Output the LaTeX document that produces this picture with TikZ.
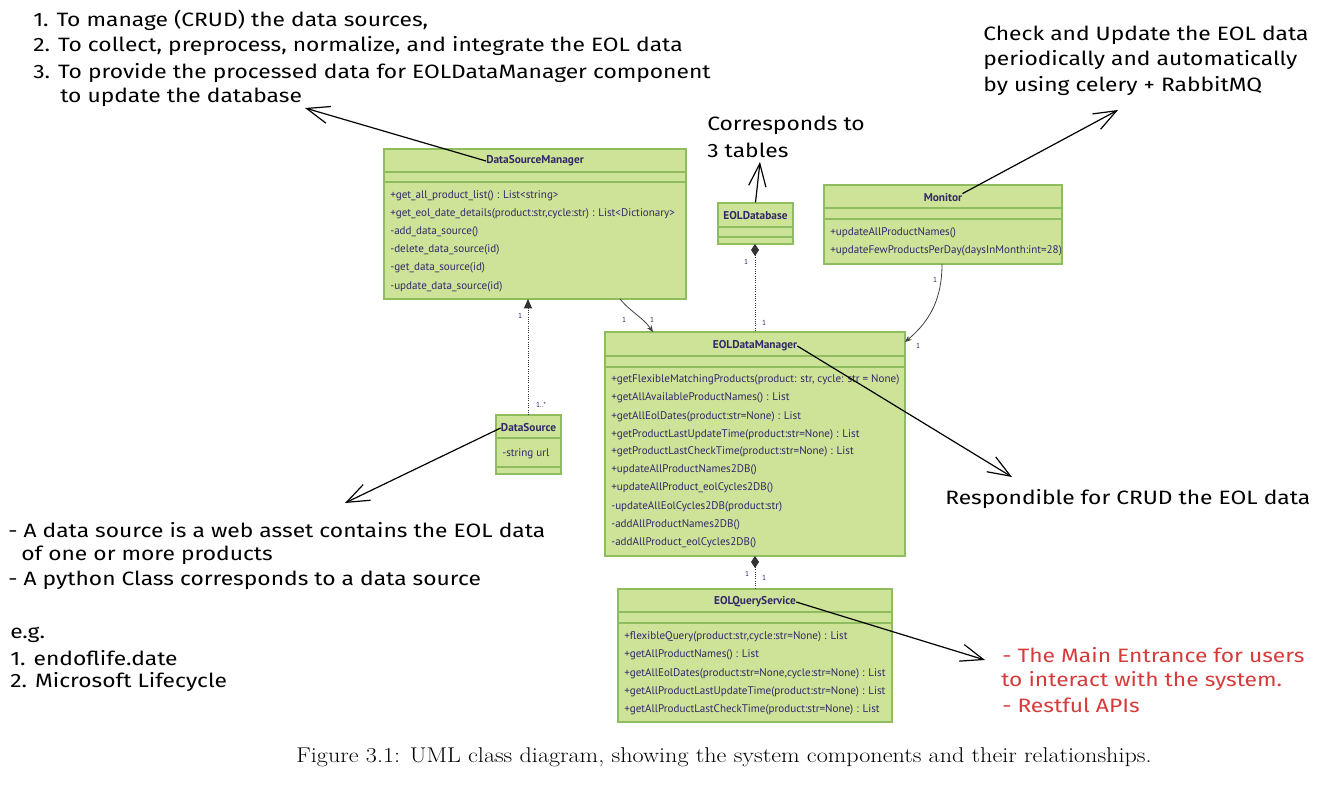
\documentclass[tikz,border=0pt]{standalone}
\usepackage{fontspec}
\newfontfamily\umlfont{PT Sans}
\newfontfamily\handfont[FakeStretch=1.18]{Fira Sans}
\newfontfamily\capfont[FakeStretch=1.13]{Latin Modern Roman}
\usetikzlibrary{arrows.meta,fit,calc}
\definecolor{boxfill}{HTML}{CDE498}
\definecolor{boxline}{HTML}{8FBC5F}
\definecolor{umltext}{HTML}{33276A}
\definecolor{notered}{HTML}{D63B3B}
\tikzset{
  umlbox/.style={draw=boxline, fill=boxfill, line width=0.9pt, inner sep=0pt},
  umlsep/.style={draw=boxline, line width=0.9pt},
  umltitle/.style={font=\umlfont\bfseries\fontsize{8.5}{10}\selectfont, text=umltext, inner sep=0pt},
  op/.style={anchor=west, font=\umlfont\fontsize{8.3}{10}\selectfont, text=umltext, inner sep=0pt},
  mult/.style={font=\umlfont\fontsize{5.5}{6}\selectfont, text=umltext, inner sep=0pt},
  hand/.style={anchor=west, font=\handfont\fontsize{14.5}{17}\selectfont, inner sep=0pt},
  redhand/.style={hand, text=notered},
  assoc/.style={draw=black!75, line width=0.6pt, -{Stealth[length=5pt,width=4pt]}},
  dotconn/.style={draw=black!80, line width=0.7pt, densely dotted},
  note/.style={draw=black, line width=0.9pt, -{Straight Barb[length=17pt,width=13pt,line width=0.9pt]}},
}
\begin{document}
\begin{tikzpicture}[x=0.75pt,y=-0.75pt]
\useasboundingbox (0,0) rectangle (1328,792);
% ---------- DataSourceManager ----------
\coordinate (dsmNW) at (384,149); \coordinate (dsmSE) at (686,299);
\node[umlbox, fit=(dsmNW)(dsmSE)] (dsm) {};
\draw[umlsep] (384,172) -- (686,172);
\draw[umlsep] (384,182) -- (686,182);
\node[umltitle] (dsmT) at (535,161) {DataSourceManager};
\node[op] at (390,196) {+get\_all\_product\_list() : List<string>};
\node[op] at (390,214) {+get\_eol\_date\_details(product:str,cycle:str) : List<Dictionary>};
\node[op] at (390,232) {-add\_data\_source()};
\node[op] at (390,250) {-delete\_data\_source(id)};
\node[op] at (390,268) {-get\_data\_source(id)};
\node[op] at (390,287) {-update\_data\_source(id)};
% ---------- EOLDatabase ----------
\coordinate (dbNW) at (718,203); \coordinate (dbSE) at (793,244);
\node[umlbox, fit=(dbNW)(dbSE)] (db) {};
\draw[umlsep] (718,227) -- (793,227);
\draw[umlsep] (718,237) -- (793,237);
\node[umltitle] (dbT) at (755.5,216) {EOLDatabase};
% ---------- Monitor ----------
\coordinate (monNW) at (824,185); \coordinate (monSE) at (1062,264);
\node[umlbox, fit=(monNW)(monSE)] (mon) {};
\draw[umlsep] (824,208) -- (1062,208);
\draw[umlsep] (824,219) -- (1062,219);
\node[umltitle] (monT) at (943,198) {Monitor};
\node[op] at (830,233) {+updateAllProductNames()};
\node[op] at (830,251) {+updateFewProductsPerDay(daysInMonth:int=28)};
% ---------- EOLDataManager ----------
\coordinate (edmNW) at (605,332); \coordinate (edmSE) at (905,556);
\node[umlbox, fit=(edmNW)(edmSE)] (edm) {};
\draw[umlsep] (605,356) -- (905,356);
\draw[umlsep] (605,367) -- (905,367);
\node[umltitle] (edmT) at (755,346) {EOLDataManager};
\node[op] at (611,380) {+getFlexibleMatchingProducts(product: str, cycle: str = None)};
\node[op] at (611,398) {+getAllAvailableProductNames() : List};
\node[op] at (611,417) {+getAllEolDates(product:str=None) : List};
\node[op] at (611,435) {+getProductLastUpdateTime(product:str=None) : List};
\node[op] at (611,452) {+getProductLastCheckTime(product:str=None) : List};
\node[op] at (611,470) {+updateAllProductNames2DB()};
\node[op] at (611,488) {+updateAllProduct\_eolCycles2DB()};
\node[op] at (611,507) {-updateAllEolCycles2DB(product:str)};
\node[op] at (611,525) {-addAllProductNames2DB()};
\node[op] at (611,543) {-addAllProduct\_eolCycles2DB()};
% ---------- EOLQueryService ----------
\coordinate (eqsNW) at (618,589); \coordinate (eqsSE) at (892,722);
\node[umlbox, fit=(eqsNW)(eqsSE)] (eqs) {};
\draw[umlsep] (618,612) -- (892,612);
\draw[umlsep] (618,623) -- (892,623);
\node[umltitle] (eqsT) at (755,602) {EOLQueryService};
\node[op] at (624,637) {+flexibleQuery(product:str,cycle:str=None) : List};
\node[op] at (624,655) {+getAllProductNames() : List};
\node[op] at (624,674) {+getAllEolDates(product:str=None,cycle:str=None) : List};
\node[op] at (624,692) {+getAllProductLastUpdateTime(product:str=None) : List};
\node[op] at (624,710) {+getAllProductLastCheckTime(product:str=None) : List};
% ---------- DataSource ----------
\coordinate (dsNW) at (496,415); \coordinate (dsSE) at (561,474);
\node[umlbox, fit=(dsNW)(dsSE)] (ds) {};
\draw[umlsep] (496,438) -- (561,438);
\draw[umlsep] (496,467) -- (561,467);
\node[umltitle] (dsT) at (528.5,428) {DataSource};
\node[op] at (502,454) {-string url};
% ---------- UML connectors ----------
\coordinate (dsmB1) at (620,299); \coordinate (edmT1) at (653,332);
\draw[assoc] (dsmB1) to[out=-50,in=125] (edmT1);
\node[mult] at (624,320) {1};
\node[mult] at (652,320) {1};
\coordinate (dsTop) at (528,415); \coordinate (dsmB2) at (528,299);
\draw[dotconn, -{Triangle[length=7pt,width=6pt]}] (dsTop) -- (dsmB2);
\node[mult] at (520,316) {1};
\node[mult] at (541,405) {1..*};
\coordinate (dbB) at (755,244); \coordinate (edmT2) at (755,332);
\draw[dotconn, {Diamond[length=9pt,width=6pt]}-] (dbB) -- (edmT2);
\node[mult] at (746,262) {1};
\node[mult] at (764,323) {1};
\coordinate (monB) at (942,264); \coordinate (edmR) at (905,342);
\draw[assoc] (monB) to[out=-90,in=40] (edmR);
\node[mult] at (935,280) {1};
\node[mult] at (918,346) {1};
\coordinate (edmB) at (755,556); \coordinate (eqsTop) at (755,589);
\draw[dotconn, {Diamond[length=9pt,width=6pt]}-] (edmB) -- (eqsTop);
\node[mult] at (747,574) {1};
\node[mult] at (764,578) {1};
% ---------- notes ----------
\node[hand] at (33,20) {1. To manage (CRUD) the data sources,};
\node[hand] at (33,46) {2. To collect, preprocess, normalize, and integrate the EOL data};
\node[hand] at (33,73) {3. To provide the processed data for EOLDataManager component};
\node[hand] at (60,97) {to update the database};
\node[hand] at (707,125) {Corresponds to};
\node[hand] at (707,150) {3 tables};
\node[hand] at (983,35) {Check and Update the EOL data};
\node[hand] at (983,60) {periodically and automatically};
\node[hand] at (983,86) {by using celery + RabbitMQ};
\node[hand] at (945,499) {Respondible for CRUD the EOL data};
\node[hand] at (8,530) {- A data source is a web asset contains the EOL data};
\node[hand] at (21,555) {of one or more products};
\node[hand] at (8,580) {- A python Class corresponds to a data source};
\node[hand] at (10,635) {e.g.};
\node[hand] at (10,658) {1. endoflife.date};
\node[hand] at (10,682) {2. Microsoft Lifecycle};
\node[redhand] at (1002,655) {- The Main Entrance for users};
\node[redhand] at (1001,681) {to interact with the system.};
\node[redhand] at (1002,705) {- Restful APIs};
% ---------- note arrows ----------
\coordinate (tipA) at (305,108);
\coordinate (tipB) at (760,162);
\coordinate (tipC) at (1118,110);
\coordinate (tipD) at (345,503);
\coordinate (tipE) at (1012,477);
\coordinate (tipF) at (985,660);
\draw[note] (dsmT.west) -- (tipA);
\draw[note] (db.north) -- (tipB);
\draw[note] (monT.north east) -- (tipC);
\draw[note] (dsT.west) -- (tipD);
\draw[note] (edmT.east) -- (tipE);
\draw[note] (eqsT.east) -- (tipF);
% ---------- caption ----------
\node[font=\capfont\fontsize{16}{19}\selectfont, inner sep=0pt] (cap) at (724,757) {Figure 3.1: UML class diagram, showing the system components and their relationships.};
\end{tikzpicture}
\end{document}
